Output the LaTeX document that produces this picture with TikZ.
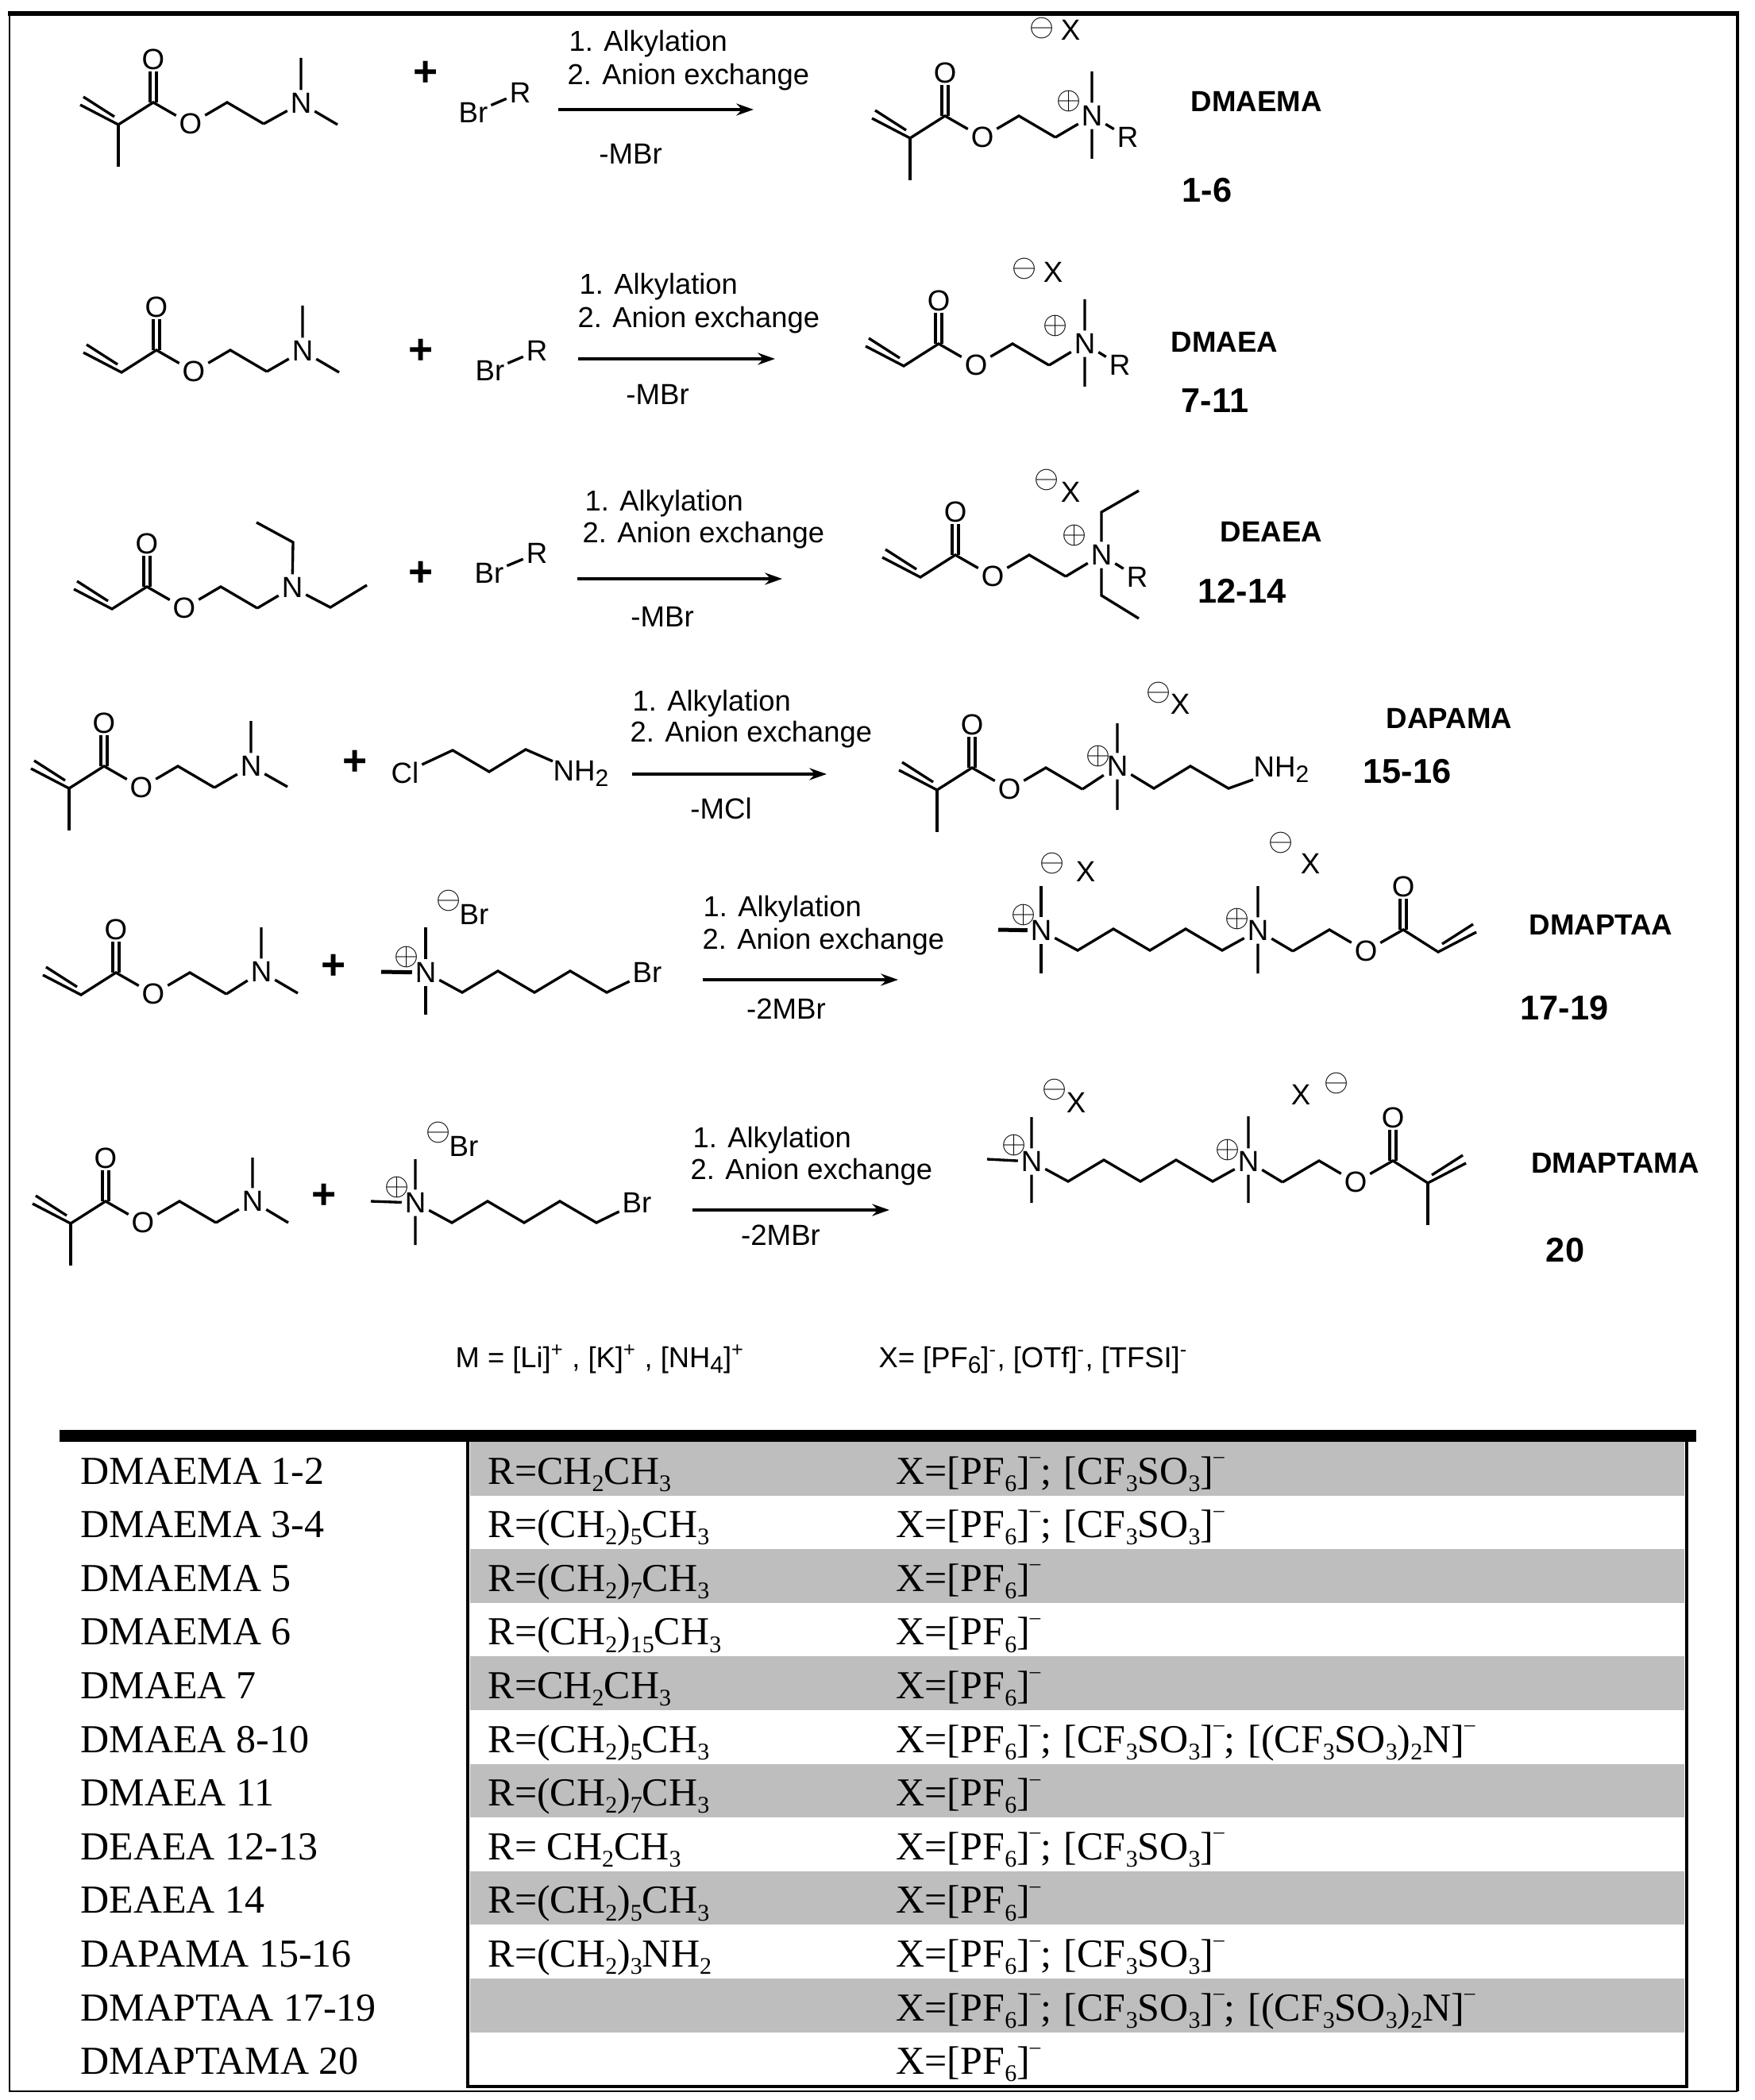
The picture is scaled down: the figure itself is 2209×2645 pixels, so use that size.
\documentclass[tikz,border=0pt]{standalone}
\usepackage{fontspec}
\setmainfont{Liberation Serif}
\setsansfont{Liberation Sans}
\usetikzlibrary{arrows.meta}
\definecolor{rowgray}{HTML}{BEBEBE}
\tikzset{
	bond/.style={line width=1pt},%
	thickbond/.style={line width=1.5pt},%
	atom/.style={font=\sffamily\fontsize{11}{12}\selectfont,inner sep=1pt},%
	charge/.style={font=\fontsize{12.5}{14}\selectfont,inner sep=0pt},%
	plussign/.style={font=\sffamily\bfseries\fontsize{16}{18}\selectfont,inner sep=0pt},%
	condition/.style={font=\sffamily\fontsize{10.9}{13}\selectfont,anchor=base west,inner sep=0pt},%
	byproduct/.style={font=\sffamily\fontsize{11}{13}\selectfont,inner sep=0pt},%
	compound/.style={font=\sffamily\bfseries\fontsize{11}{13}\selectfont,inner sep=0pt},%
	compoundno/.style={font=\sffamily\bfseries\fontsize{13}{15}\selectfont,inner sep=0pt},%
	reactionarrow/.style={line width=1.1pt,-{Stealth[length=6.5pt,width=4.5pt]}},%
	rowtext/.style={font=\fontsize{15}{18}\selectfont,anchor=base west,inner sep=0pt},%
	bandon/.style={fill=rowgray},%
	bandoff/.style={},%
	tablerule/.style={line width=1pt},%
}
\newcommand{\tsub}[1]{\raisebox{-0.4ex}{\fontsize{9}{9}\selectfont #1}}
\newcommand{\tsup}{\raisebox{1.15ex}{\fontsize{8}{9}\selectfont\textendash}}
\newcommand{\pfsix}{[PF\tsub{6}]\tsup}
\newcommand{\triflate}{[CF\tsub{3}SO\tsub{3}]\tsup}
\newcommand{\bistriflyl}{[(CF\tsub{3}SO\tsub{3})\tsub{2}N]\tsup}
% ester end of a monomer, origin on the carbonyl carbon
\newcommand{\acrylchain}[2]{%
	\begin{scope}[#2]
		\coordinate (#1c) at (0,0);
		\coordinate (#1a) at (-44,28);
		\coordinate (#1e) at (-92,3);
		\node[atom] (#1o) at (0,-54) {O};
		\node[atom] (#1eo) at (47,27) {O};
		\coordinate (#1ma) at (93,0);
		\coordinate (#1mb) at (139,27);
		\draw[bond] (#1e) -- (#1a) -- (#1c) -- (#1eo) -- (#1ma) -- (#1mb);
		\draw[bond] (-88,-7) -- (-49,18);
		\draw[bond] (-4,0) -- (-4,-39) (4,0) -- (4,-39);
	\end{scope}
}
\newcommand{\pentylchain}[2]{%
	\draw[bond] (#1) -- ([shift={(46,25)}]#1.center) -- ([shift={(91,-2)}]#1.center) -- ([shift={(137,25)}]#1.center) -- ([shift={(182,-2)}]#1.center) -- ([shift={(228,25)}]#1.center) -- (#2);
}
\newcommand{\conditions}[7]{%
	\node[condition] (#1one) at #2 {1. Alkylation};
	\node[condition] (#1two) at #3 {2. Anion exchange};
	\coordinate (#1from) at #4;
	\coordinate (#1to) at #5;
	\draw[reactionarrow] (#1from) -- (#1to);
	\node[byproduct] (#1loss) at #6 {#7};
}
\newcommand{\tablerow}[5]{%
	\path[#2] (592,{1816+67.6*#1}) rectangle (2121,{1883.6+67.6*#1});
	\node[rowtext] (name#1) at (101,{1869+67.6*#1}) {#3};
	\if\relax\detokenize{#4}\relax\else\node[rowtext] (r#1) at (614,{1869+67.6*#1}) {#4};\fi
	\node[rowtext] (x#1) at (1128,{1869+67.6*#1}) {#5};
}

\begin{document}
\begin{tikzpicture}[x=0.3pt,y=-0.3pt]
		\useasboundingbox (0,0) rectangle (2209,2645);
		% Frame {{{
		\draw[line width=0.8pt] (12,17) -- (12,2634) -- (2188,2634);
		\draw[line width=1.2pt] (2188,2634) -- (2188,17);
		\draw[line width=1.6pt] (10,17) -- (2190,17);
		% }}}
		% DMAEMA {{{
		\acrylchain{la}{shift={(193,129)}}
		\draw[bond] (laa) -- ++(0,53);
		\node[atom] (lan) at (379,130) {N};
		\draw[bond] (lamb) -- (lan) (lan) -- ++(0,-57) (lan) -- ++(46,27);
		\node[plussign] (laplus) at (536,93) {+};
		\node[atom] (labr) at (596,142) {Br};
		\node[atom] (lar) at (655,117) {R};
		\draw[bond] (labr) -- (lar);
		\conditions{rxa}{(716,65)}{(714,107)}{(703,138)}{(949,138)}{(794,194)}{-MBr}
		\acrylchain{pa}{shift={(1190,146)}}
		\draw[bond] (paa) -- ++(0,53);
		\node[atom] (pan) at (1375,146) {N};
		\node[atom] (par) at (1420,173) {R};
		\draw[bond] (pamb) -- (pan) (pan) -- ++(0,-56) (pan) -- ++(0,54) (pan) -- (par);
		\node[charge] (paplus) at (1346,128) {\(\oplus\)};
		\node[charge] (paminus) at (1312,36) {\(\ominus\)};
		\node[atom] (pax) at (1348,38) {X};
		\node[compound] (paname) at (1582,128) {DMAEMA};
		\node[compoundno] (pano) at (1520,240) {1-6};
		% }}}
		% DMAEA {{{
		\acrylchain{lb}{shift={(197,441)}}
		\node[atom] (lbn) at (381,442) {N};
		\draw[bond] (lbmb) -- (lbn) (lbn) -- ++(0,-57) (lbn) -- ++(46,27);
		\node[plussign] (lbplus) at (530,443) {+};
		\node[atom] (lbbr) at (617,467) {Br};
		\node[atom] (lbr) at (676,442) {R};
		\draw[bond] (lbbr) -- (lbr);
		\conditions{rxb}{(729,371)}{(727,413)}{(728,452)}{(976,452)}{(828,497)}{-MBr}
		\acrylchain{pb}{shift={(1182,433)}}
		\node[atom] (pbn) at (1366,433) {N};
		\node[atom] (pbr) at (1410,460) {R};
		\draw[bond] (pbmb) -- (pbn) (pbn) -- ++(0,-56) (pbn) -- ++(0,54) (pbn) -- (pbr);
		\node[charge] (pbplus) at (1329,411) {\(\oplus\)};
		\node[charge] (pbminus) at (1290,339) {\(\ominus\)};
		\node[atom] (pbx) at (1326,343) {X};
		\node[compound] (pbname) at (1542,431) {DMAEA};
		\node[compoundno] (pbno) at (1530,505) {7-11};
		% }}}
		% DEAEA {{{
		\acrylchain{lc}{shift={(185,739)}}
		\node[atom] (lcn) at (368,740) {N};
		\draw[bond] (lcmb) -- (lcn) (lcn) -- ++(1,-57) -- ++(-46,-25) (lcn) -- ++(48,25) -- ++(46,-28);
		\node[plussign] (lcplus) at (530,723) {+};
		\node[atom] (lcbr) at (616,722) {Br};
		\node[atom] (lcr) at (676,697) {R};
		\draw[bond] (lcbr) -- (lcr);
		\conditions{rxc}{(736,644)}{(733,684)}{(727,729)}{(985,729)}{(834,777)}{-MBr}
		\acrylchain{pc}{shift={(1203,699)}}
		\node[atom] (pcn) at (1387,699) {N};
		\node[atom] (pcr) at (1432,727) {R};
		\draw[bond] (pcmb) -- (pcn) (pcn) -- ++(0,-54) -- ++(47,-27) (pcn) -- ++(0,51) -- ++(47,29) (pcn) -- (pcr);
		\node[charge] (pcplus) at (1353,675) {\(\oplus\)};
		\node[charge] (pcminus) at (1318,605) {\(\ominus\)};
		\node[atom] (pcx) at (1348,620) {X};
		\node[compound] (pcname) at (1601,670) {DEAEA};
		\node[compoundno] (pcno) at (1564,744) {12-14};
		% }}}
		% DAPAMA {{{
		\acrylchain{ld}{shift={(131,965)}}
		\draw[bond] (lda) -- ++(0,53);
		\node[atom] (ldn) at (316,965) {N};
		\draw[bond] (ldmb) -- (ldn) (ldn) -- ++(0,-57) (ldn) -- ++(46,26);
		\node[plussign] (ldplus) at (447,961) {+};
		\node[atom] (ldcl) at (510,973) {Cl};
		\node[atom,anchor=base west,inner sep=0pt] (ldamine) at (696,983) {NH\tsub{2}};
		\draw[bond] (ldcl) -- ++(60,-28) -- ++(46,27) -- ++(46,-28) -- (ldamine);
		\conditions{rxd}{(796,895)}{(793,934)}{(796,975)}{(1041,975)}{(908,1018)}{-MCl}
		\acrylchain{pd}{shift={(1224,967)}}
		\draw[bond] (pda) -- ++(0,53);
		\node[atom] (pdn) at (1407,965) {N};
		\node[atom,anchor=base west,inner sep=0pt] (pdamine) at (1578,978) {NH\tsub{2}};
		\draw[bond] (pdmb) -- (pdn) (pdn) -- ++(0,-54) (pdn) -- ++(0,55);
		\draw[bond] (pdn) -- ++(46,28) -- ++(46,-28) -- ++(48,28) -- (pdamine);
		\node[charge] (pdplus) at (1383,952) {\(\oplus\)};
		\node[charge] (pdminus) at (1459,872) {\(\ominus\)};
		\node[atom] (pdx) at (1486,887) {X};
		\node[compound] (pdname) at (1825,905) {DAPAMA};
		\node[compoundno] (pdno) at (1772,972) {15-16};
		% }}}
		% DMAPTAA {{{
		\acrylchain{le}{shift={(146,1225)}}
		\node[atom] (len) at (329,1224) {N};
		\draw[bond] (lemb) -- (len) (len) -- ++(0,-56) (len) -- ++(46,27);
		\node[plussign] (leplus) at (420,1218) {+};
		\node[atom] (leq) at (536,1225) {N};
		\node[atom] (lebr) at (815,1225) {Br};
		\draw[bond] (leq) -- ++(0,-57) (leq) -- ++(0,53);
		\draw[thickbond] (leq) -- ++(-56,-1);
		\pentylchain{leq}{lebr}
		\node[charge] (lecat) at (512,1205) {\(\oplus\)};
		\node[charge] (leminus) at (565,1134) {\(\ominus\)};
		\node[atom] (lean) at (597,1152) {Br};
		\conditions{rxe}{(885,1154)}{(884,1195)}{(885,1234)}{(1131,1234)}{(990,1271)}{-2MBr}
		\node[atom] (pen) at (1311,1172) {N};
		\node[atom] (pem) at (1584,1172) {N};
		\draw[bond] (pen) -- ++(0,-56) (pen) -- ++(0,54);
		\draw[thickbond] (pen) -- ++(-54,-1);
		\pentylchain{pen}{pem}
		\acrylchain{pe}{shift={(1767,1171)},xscale=-1}
		\draw[bond] (pemb) -- (pem) (pem) -- ++(0,-56) (pem) -- ++(0,54);
		\node[charge] (pecat) at (1289,1152) {\(\oplus\)};
		\node[charge] (peminus) at (1325,1087) {\(\ominus\)};
		\node[atom] (pex) at (1367,1098) {X};
		\node[charge] (pecatb) at (1558,1157) {\(\oplus\)};
		\node[charge] (peminusb) at (1613,1061) {\(\ominus\)};
		\node[atom] (pexb) at (1650,1088) {X};
		\node[compound] (pename) at (2016,1165) {DMAPTAA};
		\node[compoundno] (peno) at (1970,1270) {17-19};
		% }}}
		% DMAPTAMA {{{
		\acrylchain{lf}{shift={(133,1513)}}
		\draw[bond] (lfa) -- ++(0,53);
		\node[atom] (lfn) at (318,1513) {N};
		\draw[bond] (lfmb) -- (lfn) (lfn) -- ++(0,-55) (lfn) -- ++(45,27);
		\node[plussign] (lfplus) at (408,1507) {+};
		\node[atom] (lfq) at (523,1515) {N};
		\node[atom] (lfbr) at (802,1515) {Br};
		\draw[bond] (lfq) -- ++(0,-55) (lfq) -- ++(0,53) (lfq) -- ++(-56,-2);
		\pentylchain{lfq}{lfbr}
		\node[charge] (lfcat) at (500,1495) {\(\oplus\)};
		\node[charge] (lfminus) at (552,1426) {\(\ominus\)};
		\node[atom] (lfan) at (584,1444) {Br};
		\conditions{rxf}{(872,1445)}{(869,1485)}{(872,1524)}{(1120,1524)}{(983,1556)}{-2MBr}
		\node[atom] (pfn) at (1299,1463) {N};
		\node[atom] (pfm) at (1572,1463) {N};
		\draw[bond] (pfn) -- ++(0,-56) (pfn) -- ++(0,52) (pfn) -- ++(-56,-3);
		\pentylchain{pfn}{pfm}
		\acrylchain{pf}{shift={(1754,1462)},xscale=-1}
		\draw[bond] (pfa) -- ++(0,53);
		\draw[bond] (pfmb) -- (pfm) (pfm) -- ++(0,-57) (pfm) -- ++(0,52);
		\node[charge] (pfcat) at (1277,1442) {\(\oplus\)};
		\node[charge] (pfminus) at (1328,1372) {\(\ominus\)};
		\node[atom] (pfx) at (1355,1389) {X};
		\node[charge] (pfcatb) at (1546,1448) {\(\oplus\)};
		\node[atom] (pfxb) at (1638,1379) {X};
		\node[charge] (pfminusb) at (1683,1364) {\(\ominus\)};
		\node[compound] (pfname) at (2034,1465) {DMAPTAMA};
		\node[compoundno] (pfno) at (1971,1575) {20};
		% }}}
		\node[condition] (metals) at (573,1722) {M = [Li]\textsuperscript{+} , [K]\textsuperscript{+} , [NH\tsub{4}]\textsuperscript{+}};
		\node[condition] (anions) at (1106,1722) {X= [PF\tsub{6}]\textsuperscript{-}, [OTf]\textsuperscript{-}, [TFSI]\textsuperscript{-}};
		% Table {{{
		\tablerow{0}{bandon}{DMAEMA 1-2}{R=CH\tsub{2}CH\tsub{3}}{X=\pfsix;\kern1pt{} \triflate}
		\tablerow{1}{bandoff}{DMAEMA 3-4}{R=(CH\tsub{2})\tsub{5}CH\tsub{3}}{X=\pfsix;\kern1pt{} \triflate}
		\tablerow{2}{bandon}{DMAEMA 5}{R=(CH\tsub{2})\tsub{7}CH\tsub{3}}{X=\pfsix}
		\tablerow{3}{bandoff}{DMAEMA 6}{R=(CH\tsub{2})\tsub{15}CH\tsub{3}}{X=\pfsix}
		\tablerow{4}{bandon}{DMAEA 7}{R=CH\tsub{2}CH\tsub{3}}{X=\pfsix}
		\tablerow{5}{bandoff}{DMAEA 8-10}{R=(CH\tsub{2})\tsub{5}CH\tsub{3}}{X=\pfsix;\kern1pt{} \triflate;\kern1pt{} \bistriflyl}
		\tablerow{6}{bandon}{DMAEA 11}{R=(CH\tsub{2})\tsub{7}CH\tsub{3}}{X=\pfsix}
		\tablerow{7}{bandoff}{DEAEA 12-13}{R= CH\tsub{2}CH\tsub{3}}{X=\pfsix;\kern1pt{} \triflate}
		\tablerow{8}{bandon}{DEAEA 14}{R=(CH\tsub{2})\tsub{5}CH\tsub{3}}{X=\pfsix}
		\tablerow{9}{bandoff}{DAPAMA 15-16}{R=(CH\tsub{2})\tsub{3}NH\tsub{2}}{X=\pfsix;\kern1pt{} \triflate}
		\tablerow{10}{bandon}{DMAPTAA 17-19}{}{X=\pfsix;\kern1pt{} \triflate;\kern1pt{} \bistriflyl}
		\tablerow{11}{bandoff}{DMAPTAMA 20}{}{X=\pfsix}
		\fill (75,1801) rectangle (2136,1816);
		\draw[tablerule] (589,1816) -- (589,2628) -- (2124,2628) -- (2124,1816);
		% }}}
	\end{tikzpicture}
\end{document}
